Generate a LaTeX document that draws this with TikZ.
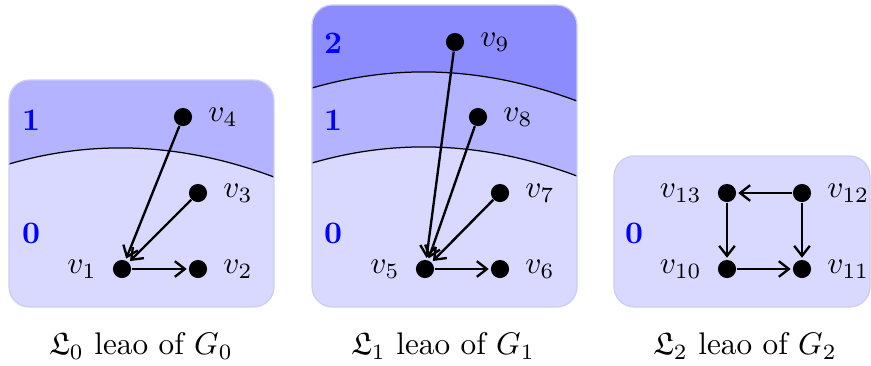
\documentclass[tikz,border=0pt]{standalone}
\usepackage{amsmath,amssymb}
\usetikzlibrary{arrows.meta,positioning}
\definecolor{lvlzero}{RGB}{217,217,255}
\definecolor{lvlone}{RGB}{179,179,255}
\definecolor{lvltwo}{RGB}{140,140,255}
\definecolor{frameline}{RGB}{205,205,240}
\tikzset{
  vert/.style={circle, fill=black, inner sep=0pt, minimum size=5.8pt},
  vlab/.style={label distance=1.5pt},
  edge/.style={-{Straight Barb[length=3.2pt, width=5pt]}, line width=0.75pt, shorten >=0.5pt},
  lvl/.style={blue, font=\bfseries},
  frame/.style={draw=frameline, rounded corners=6.5pt},
}
\begin{document}
\begin{tikzpicture}[x=0.32pt, y=-0.32pt]
    \useasboundingbox (0,0) rectangle (871,365);
    % Box of G_0
    \begin{scope}
      \clip[rounded corners=6.5pt] (9,80) rectangle (274,307);
      \fill[lvlzero] (9,80) rectangle (274,307);
      \fill[lvlone] (9,164) .. controls (95,139) and (183,143) .. (274,177) -- (274,80) -- (9,80) -- cycle;
      \draw[thin] (9,164) .. controls (95,139) and (183,143) .. (274,177);
    \end{scope}
    \draw[frame] (9,80) rectangle (274,307);
    \node[lvl] (l01) at (31,120) {1};
    \node[lvl] (l00) at (31,233) {0};
    \node[vert, label={[vlab]right:$v_4$}] (v4) at (183,117) {};
    \node[vert, label={[vlab]right:$v_3$}] (v3) at (198,193) {};
    \node[vert, label={[vlab]left:$v_1$}] (v1) at (122,269) {};
    \node[vert, label={[vlab]right:$v_2$}] (v2) at (198,269) {};
    \draw[edge] (v4) -- (v1);
    \draw[edge] (v3) -- (v1);
    \draw[edge] (v1) -- (v2);
    \node (cap0) at (141,346) {$\mathfrak{L}_0$ leao of $G_0$};
    % Box of G_1
    \begin{scope}
      \clip[rounded corners=6.5pt] (312,5) rectangle (577,307);
      \fill[lvlzero] (312,5) rectangle (577,307);
      \fill[lvlone] (312,163) .. controls (398,138) and (486,142) .. (577,176) -- (577,5) -- (312,5) -- cycle;
      \fill[lvltwo] (312,88) .. controls (398,63) and (486,67) .. (577,101) -- (577,5) -- (312,5) -- cycle;
      \draw[thin] (312,163) .. controls (398,138) and (486,142) .. (577,176);
      \draw[thin] (312,88) .. controls (398,63) and (486,67) .. (577,101);
    \end{scope}
    \draw[frame] (312,5) rectangle (577,307);
    \node[lvl] (l12) at (333,43) {2};
    \node[lvl] (l11) at (333,120) {1};
    \node[lvl] (l10) at (333,233) {0};
    \node[vert, label={[vlab]right:$v_9$}] (v9) at (455,42) {};
    \node[vert, label={[vlab]right:$v_8$}] (v8) at (478,117) {};
    \node[vert, label={[vlab]right:$v_7$}] (v7) at (500,193) {};
    \node[vert, label={[vlab]left:$v_5$}] (v5) at (425,269) {};
    \node[vert, label={[vlab]right:$v_6$}] (v6) at (500,269) {};
    \draw[edge] (v9) -- (v5);
    \draw[edge] (v8) -- (v5);
    \draw[edge] (v7) -- (v5);
    \draw[edge] (v5) -- (v6);
    \node (cap1) at (443,346) {$\mathfrak{L}_1$ leao of $G_1$};
    % Box of G_2
    \fill[lvlzero, rounded corners=6.5pt] (614,156) rectangle (870,307);
    \draw[frame] (614,156) rectangle (870,307);
    \node[lvl] (l20) at (634,233) {0};
    \node[vert, label={[vlab]left:$v_{13}$}] (v13) at (727,193) {};
    \node[vert, label={[vlab]right:$v_{12}$}] (v12) at (802,193) {};
    \node[vert, label={[vlab]left:$v_{10}$}] (v10) at (727,269) {};
    \node[vert, label={[vlab]right:$v_{11}$}] (v11) at (802,269) {};
    \draw[edge] (v12) -- (v13);
    \draw[edge] (v13) -- (v10);
    \draw[edge] (v12) -- (v11);
    \draw[edge] (v10) -- (v11);
    \node (cap2) at (745,346) {$\mathfrak{L}_2$ leao of $G_2$};
\end{tikzpicture}
\end{document}
